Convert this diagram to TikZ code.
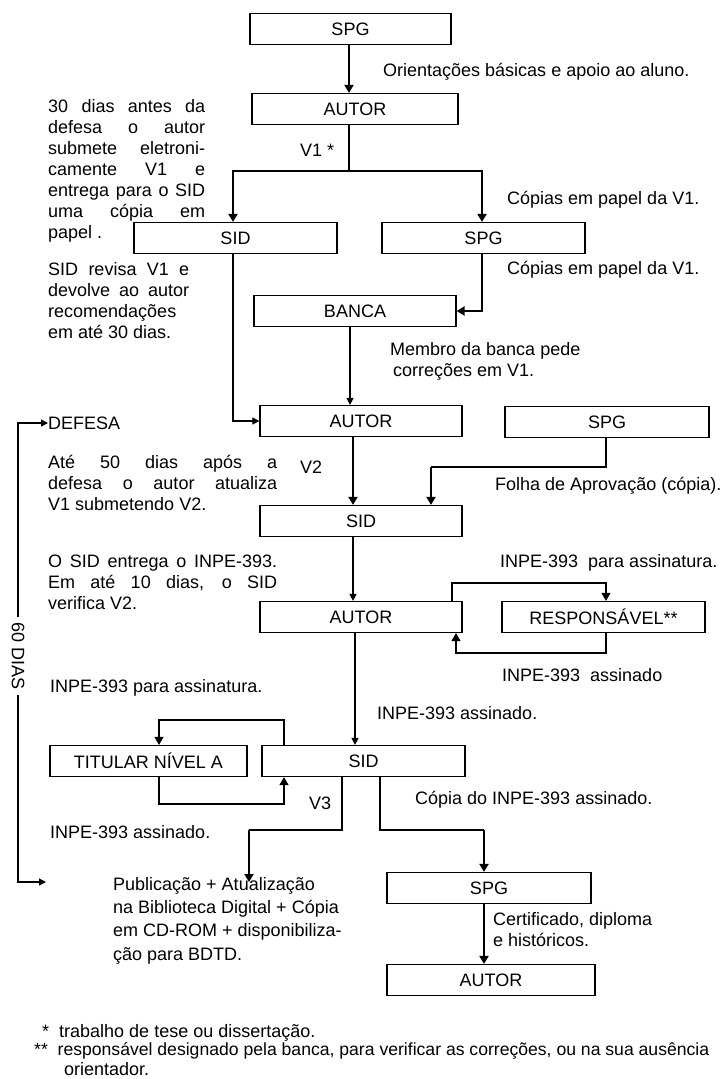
\documentclass[tikz,border=0pt]{standalone}
\usepackage{fontspec}
\setmainfont{Liberation Sans}
\usetikzlibrary{arrows.meta}

\newcommand{\jl}[2]{\makebox[#1][s]{#2}}

\tikzset{
  box/.style={draw, line width=1.2pt, minimum width=202pt, minimum height=31pt, inner sep=0pt},
  txt/.style={anchor=west, inner sep=0pt},
  blk/.style={anchor=north west, inner sep=0pt, align=left},
  thn/.style={line width=1.1pt},
  thk/.style={line width=2.6pt},
  tipn/.style={-{Triangle[length=7pt,width=7pt]}},
  tipk/.style={-{Triangle[length=8pt,width=9pt]}},
}

\begin{document}
\begin{tikzpicture}[x=1pt,y=-1pt,font=\fontsize{18}{21}\selectfont]
\useasboundingbox[fill=white] (0,0) rectangle (723,1079);

% boxes
\node[box, minimum width=201pt] (spgA) at (350.5,29) {SPG};
\node[box, minimum width=206pt] (autorA) at (355,109) {AUTOR};
\node[box, minimum width=203pt] (sidA) at (235.5,238) {SID};
\node[box, minimum width=203pt] (spgB) at (483.5,238) {SPG};
\node[box] (banca) at (355,311) {BANCA};
\node[box] (autorB) at (361,421) {AUTOR};
\node[box, minimum width=204pt] (spgC) at (607,422) {SPG};
\node[box] (sidB) at (361,521) {SID};
\node[box] (autorC) at (361,617) {AUTOR};
\node[box, minimum width=203pt] (resp) at (603.5,617) {RESPONSÁVEL**};
\node[box, minimum width=197pt] (titular) at (148.5,761) {TITULAR NÍVEL A};
\node[box, minimum width=203pt] (sidC) at (363.5,761) {SID};
\node[box, minimum width=204pt] (spgD) at (489,888) {SPG};
\node[box, minimum width=208pt] (autorD) at (491,980) {AUTOR};

% texts
\node[txt] (orient) at (383,72) {Orientações básicas e apoio ao aluno.};
\node[blk] (prazoA) at (48,99) {\jl{157pt}{30 dias antes da}\\
  \jl{157pt}{defesa o autor}\\
  \jl{157pt}{submete eletroni-}\\
  \jl{157pt}{camente V1 e}\\
  \jl{157pt}{entrega para o SID}\\
  \jl{157pt}{uma cópia em}\\
  papel .};
\node[txt] (vA) at (300,150) {V1 *};
\node[txt] (copA) at (507,200) {Cópias em papel da V1.};
\node[txt] (copB) at (507,270) {Cópias em papel da V1.};
\node[blk] (revisa) at (48,262) {\jl{141pt}{SID revisa V1 e}\\
  \jl{141pt}{devolve ao autor}\\
  recomendações\\
  em até 30 dias.};
\node[blk] (membro) at (390,342) {Membro da banca pede\\ \hspace{3pt}correções em V1.};
\node[txt] (defesa) at (48,423) {DEFESA};
\node[blk] (ate) at (48,455) {\jl{229pt}{Até 50 dias após a}\\
  \jl{229pt}{defesa o autor atualiza}\\
  V1 submetendo V2.};
\node[txt] (vB) at (300,467) {V2};
\node[txt] (folha) at (495,486) {Folha de Aprovação (cópia).};
\node[blk] (entrega) at (48,555) {\jl{229pt}{O SID entrega o INPE-393.}\\
  \jl{229pt}{Em até 10 dias, o SID}\\
  verifica V2.};
\node[txt] (assinaR) at (500,563) {INPE-393\ \ para assinatura.};
\node[txt] (assinadoR) at (502,675) {INPE-393\ \ assinado};
\node[txt] (assinaL) at (50,688) {INPE-393 para assinatura.};
\node[txt] (assinadoC) at (377,713) {INPE-393 assinado.};
\node[txt] (vC) at (309,803) {V3};
\node[txt] (copiaC) at (415,800) {Cópia do INPE-393 assinado.};
\node[txt] (assinadoL) at (50,832) {INPE-393 assinado.};
\node[blk, font=\fontsize{18}{23.3}\selectfont] (pub) at (113,877) {Publicação + Atualização\\
  na Biblioteca Digital + Cópia\\
  em CD-ROM + disponibiliza-\\
  ção para BDTD.};
\node[blk] (certif) at (493,912) {Certificado, diploma\\ e históricos.};
\node[txt] (notaA) at (42,1033) {*\ \ trabalho de tese ou dissertação.};
\node[txt, font=\fontsize{17.6}{21}\selectfont] (notaB) at (34,1051) {**\ \ responsável designado pela banca, para verificar as correções, ou na sua ausência};
\node[txt] (notaC) at (64,1069) {orientador.};
\node[rotate=-90, inner sep=5pt] (dias) at (18,656) {60 DIAS};

% connectors
\coordinate (brA) at (349,171);
\coordinate (bnC) at (431,467);
\coordinate (cnL) at (249,830);
\coordinate (cnR) at (484,830);
\coordinate (pubtip) at (249,882);
\coordinate (pubin) at (46,882);

\draw[thk,tipk] (spgA.south -| brA) -- (autorA.north -| brA);
\draw[thn] (autorA.south -| brA) -- (brA);
\draw[thk,tipk] (brA) -| (sidA.north -| 233,0);
\draw[thk,tipk] (brA) -| (spgB.north -| 482,0);
\draw[thk,tipk] (spgB.south -| 482,0) |- (banca.east);
\draw[thn,tipn] (banca.south -| 350,0) -- (autorB.north -| 350,0);
\draw[thn,tipn] (sidA.south -| 233,0) |- (autorB.west);
\draw[thk,tipk] (autorB.south -| 353,0) -- (sidB.north -| 353,0);
\draw[thn] (spgC.south -| 606,0) |- (bnC);
\draw[thk,tipk] (bnC) -- (sidB.north -| bnC);
\draw[thn,tipn] (sidB.south -| 353,0) -- (autorC.north -| 353,0);
\draw[thn,tipk] (autorC.north -| 452,0) -- (452,583) -| (resp.north -| 606,0);
\draw[thn,tipk] (resp.south -| 606,0) -- (606,653) -| (autorC.south -| 456,0);
\draw[thn,tipn] (autorC.south -| 355,0) -- (sidC.north -| 355,0);
\draw[thn,tipk] (sidC.north -| 284,0) -- (284,720) -| (titular.north -| 159,0);
\draw[thn,tipk] (titular.south -| 159,0) -- (159,804) -| (sidC.south -| 284,0);
\draw[thn] (sidC.south -| 342,0) |- (cnL);
\draw[thk,tipk] (cnL) -- (pubtip);
\draw[thn] (sidC.south -| 380,0) |- (cnR);
\draw[thk,tipk] (cnR) -- (spgD.north -| cnR);
\draw[thk,tipk] (spgD.south -| cnR) -- (autorD.north -| cnR);
\draw[thn,tipn] (dias.west) |- (defesa.west);
\draw[thn,tipn] (dias.east) |- (pubin);
\end{tikzpicture}
\end{document}
